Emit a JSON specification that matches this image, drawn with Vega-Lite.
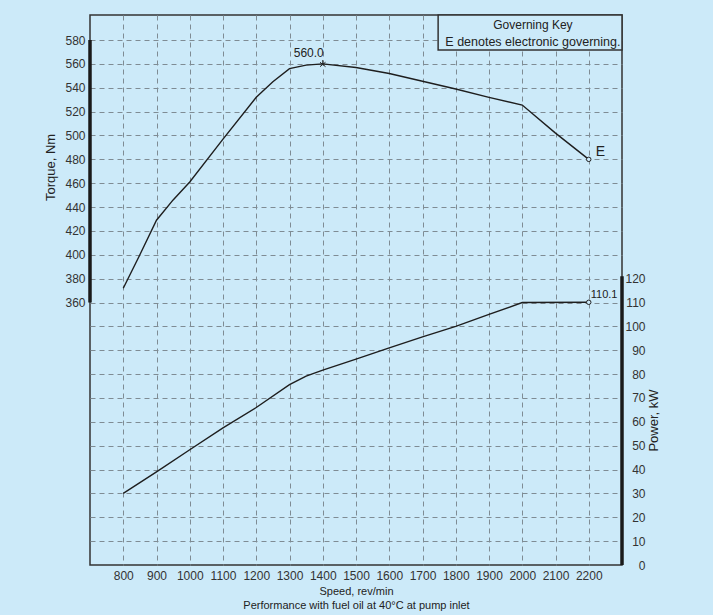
{
  "$schema": "https://vega.github.io/schema/vega-lite/v6.json",
  "width": 532,
  "height": 550,
  "autosize": {"type": "none"},
  "padding": {"left": 90, "top": 15, "right": 91, "bottom": 50},
  "background": "#cceaf9",
  "config": {
    "view": {"stroke": "#333333", "strokeWidth": 1.5},
    "font": "Liberation Sans",
    "axis": {
      "domain": false,
      "ticks": false,
      "tickSize": 0,
      "labelFontSize": 12,
      "labelColor": "#333333",
      "labelOverlap": false,
      "labelBound": false,
      "labelFlush": false,
      "titleFontWeight": "normal",
      "titleColor": "#222222",
      "gridColor": "#7f8c94",
      "gridDash": [5, 4],
      "gridWidth": 1
    }
  },
  "datasets": {
    "torque": [
      {"speed": 800, "torque": 372},
      {"speed": 850, "torque": 400},
      {"speed": 900, "torque": 429},
      {"speed": 950, "torque": 446},
      {"speed": 1000, "torque": 461},
      {"speed": 1100, "torque": 497},
      {"speed": 1200, "torque": 532},
      {"speed": 1250, "torque": 545},
      {"speed": 1300, "torque": 556},
      {"speed": 1350, "torque": 559},
      {"speed": 1400, "torque": 560},
      {"speed": 1500, "torque": 557},
      {"speed": 1600, "torque": 552},
      {"speed": 1700, "torque": 545.5},
      {"speed": 1800, "torque": 539},
      {"speed": 1900, "torque": 532},
      {"speed": 2000, "torque": 525.5},
      {"speed": 2100, "torque": 502},
      {"speed": 2200, "torque": 480}
    ],
    "power": [
      {"speed": 800, "power": 30},
      {"speed": 900, "power": 39},
      {"speed": 1000, "power": 48.3},
      {"speed": 1100, "power": 57.5},
      {"speed": 1200, "power": 66},
      {"speed": 1300, "power": 75.6},
      {"speed": 1350, "power": 79.2},
      {"speed": 1400, "power": 81.7},
      {"speed": 1500, "power": 86.3},
      {"speed": 1600, "power": 91},
      {"speed": 1700, "power": 95.6},
      {"speed": 1800, "power": 100},
      {"speed": 1900, "power": 105},
      {"speed": 2000, "power": 110},
      {"speed": 2200, "power": 110.1}
    ],
    "key": [
      {"heading": "Governing Key", "note": "E denotes electronic governing."}
    ]
  },
  "layer": [
    {
      "data": {"name": "torque"},
      "layer": [
        {
          "mark": {"type": "line", "color": "#1e1e1e", "strokeWidth": 1.4},
          "encoding": {
            "x": {"field": "speed", "type": "quantitative", "scale": {"domain": [700, 2300], "nice": false, "zero": false},
              "axis": {"values": [800, 900, 1000, 1100, 1200, 1300, 1400, 1500, 1600, 1700, 1800, 1900, 2000, 2100, 2200], "format": "d", "grid": true, "labelPadding": 5, "title": ["Speed, rev/min", "Performance with fuel oil at 40°C at pump inlet"], "titleFontSize": 11, "titleLineHeight": 14, "titleY": 20, "titleBaseline": "top"}},
            "y": {"field": "torque", "type": "quantitative", "scale": {"domain": [140, 601], "nice": false, "zero": false},
              "axis": {"values": [160, 180, 200, 220, 240, 260, 280, 300, 320, 340, 360, 380, 400, 420, 440, 460, 480, 500, 520, 540, 560, 580], "labelExpr": "datum.value >= 360 ? datum.label : ''", "grid": true, "labelPadding": 5, "title": "Torque, Nm", "titleFontSize": 13, "titleX": -40, "titleY": 152, "titleAngle": 270, "titleAlign": "center", "titleBaseline": "middle"}}
          }
        },
        {
          "data": {"name": "key"},
          "mark": {"type": "rule", "color": "#1a1a1a", "strokeWidth": 3.5},
          "encoding": {
            "x": {"datum": 700, "type": "quantitative",
              "axis": {"values": [800, 900, 1000, 1100, 1200, 1300, 1400, 1500, 1600, 1700, 1800, 1900, 2000, 2100, 2200], "format": "d", "grid": true, "labelPadding": 5, "title": ["Speed, rev/min", "Performance with fuel oil at 40°C at pump inlet"], "titleFontSize": 11, "titleLineHeight": 14, "titleY": 20, "titleBaseline": "top"}},
            "y": {"datum": 360, "type": "quantitative",
              "axis": {"values": [160, 180, 200, 220, 240, 260, 280, 300, 320, 340, 360, 380, 400, 420, 440, 460, 480, 500, 520, 540, 560, 580], "labelExpr": "datum.value >= 360 ? datum.label : ''", "grid": true, "labelPadding": 5, "title": "Torque, Nm", "titleFontSize": 13, "titleX": -40, "titleY": 152, "titleAngle": 270, "titleAlign": "center", "titleBaseline": "middle"}},
            "y2": {"datum": 580}
          }
        },
        {
          "transform": [{"filter": "datum.speed == 1400"}],
          "mark": {"type": "point", "shape": "M-1,-0.6L1,1M-1,1L1,-0.6M0,-1.4L0,0.2", "size": 30, "color": "#222222", "strokeWidth": 1, "filled": false, "opacity": 1},
          "encoding": {
            "x": {"field": "speed", "type": "quantitative",
              "axis": {"values": [800, 900, 1000, 1100, 1200, 1300, 1400, 1500, 1600, 1700, 1800, 1900, 2000, 2100, 2200], "format": "d", "grid": true, "labelPadding": 5, "title": ["Speed, rev/min", "Performance with fuel oil at 40°C at pump inlet"], "titleFontSize": 11, "titleLineHeight": 14, "titleY": 20, "titleBaseline": "top"}},
            "y": {"field": "torque", "type": "quantitative",
              "axis": {"values": [160, 180, 200, 220, 240, 260, 280, 300, 320, 340, 360, 380, 400, 420, 440, 460, 480, 500, 520, 540, 560, 580], "labelExpr": "datum.value >= 360 ? datum.label : ''", "grid": true, "labelPadding": 5, "title": "Torque, Nm", "titleFontSize": 13, "titleX": -40, "titleY": 152, "titleAngle": 270, "titleAlign": "center", "titleBaseline": "middle"}}
          }
        },
        {
          "transform": [{"filter": "datum.speed == 1400"}],
          "mark": {"type": "text", "align": "right", "baseline": "alphabetic", "dx": 1, "dy": -7, "fontSize": 12, "color": "#222222"},
          "encoding": {
            "x": {"field": "speed", "type": "quantitative",
              "axis": {"values": [800, 900, 1000, 1100, 1200, 1300, 1400, 1500, 1600, 1700, 1800, 1900, 2000, 2100, 2200], "format": "d", "grid": true, "labelPadding": 5, "title": ["Speed, rev/min", "Performance with fuel oil at 40°C at pump inlet"], "titleFontSize": 11, "titleLineHeight": 14, "titleY": 20, "titleBaseline": "top"}},
            "y": {"field": "torque", "type": "quantitative",
              "axis": {"values": [160, 180, 200, 220, 240, 260, 280, 300, 320, 340, 360, 380, 400, 420, 440, 460, 480, 500, 520, 540, 560, 580], "labelExpr": "datum.value >= 360 ? datum.label : ''", "grid": true, "labelPadding": 5, "title": "Torque, Nm", "titleFontSize": 13, "titleX": -40, "titleY": 152, "titleAngle": 270, "titleAlign": "center", "titleBaseline": "middle"}},
            "text": {"field": "torque", "type": "quantitative", "format": ".1f"}
          }
        },
        {
          "transform": [{"filter": "datum.speed == 2200"}],
          "mark": {"type": "point", "shape": "circle", "size": 20, "color": "#222222", "fill": "#cceaf9", "strokeWidth": 1, "filled": false, "opacity": 1, "fillOpacity": 1},
          "encoding": {
            "x": {"field": "speed", "type": "quantitative",
              "axis": {"values": [800, 900, 1000, 1100, 1200, 1300, 1400, 1500, 1600, 1700, 1800, 1900, 2000, 2100, 2200], "format": "d", "grid": true, "labelPadding": 5, "title": ["Speed, rev/min", "Performance with fuel oil at 40°C at pump inlet"], "titleFontSize": 11, "titleLineHeight": 14, "titleY": 20, "titleBaseline": "top"}},
            "y": {"field": "torque", "type": "quantitative",
              "axis": {"values": [160, 180, 200, 220, 240, 260, 280, 300, 320, 340, 360, 380, 400, 420, 440, 460, 480, 500, 520, 540, 560, 580], "labelExpr": "datum.value >= 360 ? datum.label : ''", "grid": true, "labelPadding": 5, "title": "Torque, Nm", "titleFontSize": 13, "titleX": -40, "titleY": 152, "titleAngle": 270, "titleAlign": "center", "titleBaseline": "middle"}}
          }
        },
        {
          "transform": [{"filter": "datum.speed == 2200"}],
          "mark": {"type": "text", "align": "left", "baseline": "alphabetic", "dx": 7, "dy": -3, "fontSize": 14, "color": "#222222", "text": "E"},
          "encoding": {
            "x": {"field": "speed", "type": "quantitative",
              "axis": {"values": [800, 900, 1000, 1100, 1200, 1300, 1400, 1500, 1600, 1700, 1800, 1900, 2000, 2100, 2200], "format": "d", "grid": true, "labelPadding": 5, "title": ["Speed, rev/min", "Performance with fuel oil at 40°C at pump inlet"], "titleFontSize": 11, "titleLineHeight": 14, "titleY": 20, "titleBaseline": "top"}},
            "y": {"field": "torque", "type": "quantitative",
              "axis": {"values": [160, 180, 200, 220, 240, 260, 280, 300, 320, 340, 360, 380, 400, 420, 440, 460, 480, 500, 520, 540, 560, 580], "labelExpr": "datum.value >= 360 ? datum.label : ''", "grid": true, "labelPadding": 5, "title": "Torque, Nm", "titleFontSize": 13, "titleX": -40, "titleY": 152, "titleAngle": 270, "titleAlign": "center", "titleBaseline": "middle"}}
          }
        },
        {
          "data": {"name": "key"},
          "mark": {"type": "rect", "fill": "#cceaf9", "stroke": "#333333", "strokeWidth": 1.5},
          "encoding": {
            "x": {"datum": 1747, "type": "quantitative",
              "axis": {"values": [800, 900, 1000, 1100, 1200, 1300, 1400, 1500, 1600, 1700, 1800, 1900, 2000, 2100, 2200], "format": "d", "grid": true, "labelPadding": 5, "title": ["Speed, rev/min", "Performance with fuel oil at 40°C at pump inlet"], "titleFontSize": 11, "titleLineHeight": 14, "titleY": 20, "titleBaseline": "top"}},
            "x2": {"datum": 2300},
            "y": {"datum": 601, "type": "quantitative",
              "axis": {"values": [160, 180, 200, 220, 240, 260, 280, 300, 320, 340, 360, 380, 400, 420, 440, 460, 480, 500, 520, 540, 560, 580], "labelExpr": "datum.value >= 360 ? datum.label : ''", "grid": true, "labelPadding": 5, "title": "Torque, Nm", "titleFontSize": 13, "titleX": -40, "titleY": 152, "titleAngle": 270, "titleAlign": "center", "titleBaseline": "middle"}},
            "y2": {"datum": 571.7}
          }
        },
        {
          "data": {"name": "key"},
          "mark": {"type": "text", "align": "center", "baseline": "alphabetic", "fontSize": 12, "color": "#222222"},
          "encoding": {
            "x": {"datum": 2032, "type": "quantitative",
              "axis": {"values": [800, 900, 1000, 1100, 1200, 1300, 1400, 1500, 1600, 1700, 1800, 1900, 2000, 2100, 2200], "format": "d", "grid": true, "labelPadding": 5, "title": ["Speed, rev/min", "Performance with fuel oil at 40°C at pump inlet"], "titleFontSize": 11, "titleLineHeight": 14, "titleY": 20, "titleBaseline": "top"}},
            "y": {"datum": 589.3, "type": "quantitative",
              "axis": {"values": [160, 180, 200, 220, 240, 260, 280, 300, 320, 340, 360, 380, 400, 420, 440, 460, 480, 500, 520, 540, 560, 580], "labelExpr": "datum.value >= 360 ? datum.label : ''", "grid": true, "labelPadding": 5, "title": "Torque, Nm", "titleFontSize": 13, "titleX": -40, "titleY": 152, "titleAngle": 270, "titleAlign": "center", "titleBaseline": "middle"}},
            "text": {"field": "heading"}
          }
        },
        {
          "data": {"name": "key"},
          "mark": {"type": "text", "align": "center", "baseline": "alphabetic", "fontSize": 12.5, "color": "#222222"},
          "encoding": {
            "x": {"datum": 2032, "type": "quantitative",
              "axis": {"values": [800, 900, 1000, 1100, 1200, 1300, 1400, 1500, 1600, 1700, 1800, 1900, 2000, 2100, 2200], "format": "d", "grid": true, "labelPadding": 5, "title": ["Speed, rev/min", "Performance with fuel oil at 40°C at pump inlet"], "titleFontSize": 11, "titleLineHeight": 14, "titleY": 20, "titleBaseline": "top"}},
            "y": {"datum": 575.3, "type": "quantitative",
              "axis": {"values": [160, 180, 200, 220, 240, 260, 280, 300, 320, 340, 360, 380, 400, 420, 440, 460, 480, 500, 520, 540, 560, 580], "labelExpr": "datum.value >= 360 ? datum.label : ''", "grid": true, "labelPadding": 5, "title": "Torque, Nm", "titleFontSize": 13, "titleX": -40, "titleY": 152, "titleAngle": 270, "titleAlign": "center", "titleBaseline": "middle"}},
            "text": {"field": "note"}
          }
        }
      ]
    },
    {
      "data": {"name": "power"},
      "layer": [
        {
          "mark": {"type": "line", "color": "#1e1e1e", "strokeWidth": 1.4},
          "encoding": {
            "x": {"field": "speed", "type": "quantitative",
              "axis": {"values": [800, 900, 1000, 1100, 1200, 1300, 1400, 1500, 1600, 1700, 1800, 1900, 2000, 2100, 2200], "format": "d", "grid": true, "labelPadding": 5, "title": ["Speed, rev/min", "Performance with fuel oil at 40°C at pump inlet"], "titleFontSize": 11, "titleLineHeight": 14, "titleY": 20, "titleBaseline": "top"}},
            "y": {"field": "power", "type": "quantitative", "scale": {"domain": [0, 230.5], "nice": false, "zero": false},
              "axis": {"orient": "right", "values": [0, 10, 20, 30, 40, 50, 60, 70, 80, 90, 100, 110, 120], "grid": false, "labelAlign": "right", "labelPadding": 23, "title": "Power, kW", "titleFontSize": 13, "titleX": 31, "titleY": 405, "titleAngle": 270, "titleAlign": "center", "titleBaseline": "middle"}}
          }
        },
        {
          "data": {"name": "key"},
          "mark": {"type": "rule", "color": "#1a1a1a", "strokeWidth": 3.5},
          "encoding": {
            "x": {"datum": 2300, "type": "quantitative",
              "axis": {"values": [800, 900, 1000, 1100, 1200, 1300, 1400, 1500, 1600, 1700, 1800, 1900, 2000, 2100, 2200], "format": "d", "grid": true, "labelPadding": 5, "title": ["Speed, rev/min", "Performance with fuel oil at 40°C at pump inlet"], "titleFontSize": 11, "titleLineHeight": 14, "titleY": 20, "titleBaseline": "top"}},
            "y": {"datum": 0, "type": "quantitative",
              "axis": {"orient": "right", "values": [0, 10, 20, 30, 40, 50, 60, 70, 80, 90, 100, 110, 120], "grid": false, "labelAlign": "right", "labelPadding": 23, "title": "Power, kW", "titleFontSize": 13, "titleX": 31, "titleY": 405, "titleAngle": 270, "titleAlign": "center", "titleBaseline": "middle"}},
            "y2": {"datum": 121}
          }
        },
        {
          "transform": [{"filter": "datum.speed == 2200"}],
          "mark": {"type": "point", "shape": "circle", "size": 20, "color": "#222222", "fill": "#cceaf9", "strokeWidth": 1, "filled": false, "opacity": 1, "fillOpacity": 1},
          "encoding": {
            "x": {"field": "speed", "type": "quantitative",
              "axis": {"values": [800, 900, 1000, 1100, 1200, 1300, 1400, 1500, 1600, 1700, 1800, 1900, 2000, 2100, 2200], "format": "d", "grid": true, "labelPadding": 5, "title": ["Speed, rev/min", "Performance with fuel oil at 40°C at pump inlet"], "titleFontSize": 11, "titleLineHeight": 14, "titleY": 20, "titleBaseline": "top"}},
            "y": {"field": "power", "type": "quantitative",
              "axis": {"orient": "right", "values": [0, 10, 20, 30, 40, 50, 60, 70, 80, 90, 100, 110, 120], "grid": false, "labelAlign": "right", "labelPadding": 23, "title": "Power, kW", "titleFontSize": 13, "titleX": 31, "titleY": 405, "titleAngle": 270, "titleAlign": "center", "titleBaseline": "middle"}}
          }
        },
        {
          "transform": [{"filter": "datum.speed == 2200"}],
          "mark": {"type": "text", "align": "left", "baseline": "alphabetic", "dx": 2, "dy": -4, "fontSize": 11, "color": "#222222"},
          "encoding": {
            "x": {"field": "speed", "type": "quantitative",
              "axis": {"values": [800, 900, 1000, 1100, 1200, 1300, 1400, 1500, 1600, 1700, 1800, 1900, 2000, 2100, 2200], "format": "d", "grid": true, "labelPadding": 5, "title": ["Speed, rev/min", "Performance with fuel oil at 40°C at pump inlet"], "titleFontSize": 11, "titleLineHeight": 14, "titleY": 20, "titleBaseline": "top"}},
            "y": {"field": "power", "type": "quantitative",
              "axis": {"orient": "right", "values": [0, 10, 20, 30, 40, 50, 60, 70, 80, 90, 100, 110, 120], "grid": false, "labelAlign": "right", "labelPadding": 23, "title": "Power, kW", "titleFontSize": 13, "titleX": 31, "titleY": 405, "titleAngle": 270, "titleAlign": "center", "titleBaseline": "middle"}},
            "text": {"field": "power", "type": "quantitative", "format": ".1f"}
          }
        }
      ]
    }
  ],
  "resolve": {"scale": {"y": "independent"}, "axis": {"y": "independent"}}
}
